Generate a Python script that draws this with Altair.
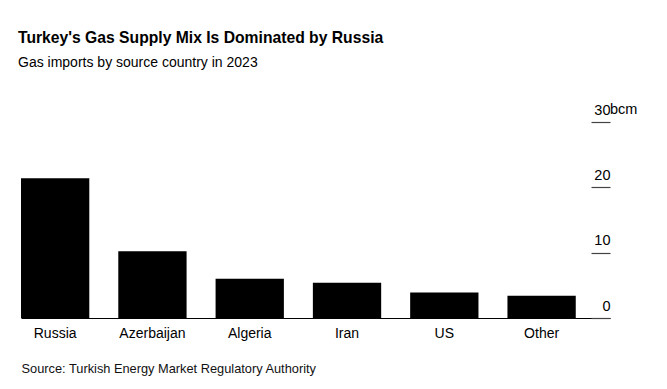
import altair as alt
import pandas as pd

countries = ["Russia", "Azerbaijan", "Algeria", "Iran", "US", "Other"]
imports_bcm = [21.4, 10.2, 6.0, 5.4, 3.9, 3.4]
y_ticks = [0, 10, 20, 30]
unit_label = ["bcm"]

df = pd.DataFrame({"country": countries, "value": imports_bcm})
unit_df = pd.DataFrame({"value": [y_ticks[-1]], "unit": unit_label})

FONT = "Liberation Sans"
W, H = 589, 196

x_enc = alt.X(
    "country:N",
    sort=countries,
    scale=alt.Scale(paddingInner=0.298, paddingOuter=0.176, align=0),
    axis=alt.Axis(
        title="Source: Turkish Energy Market Regulatory Authority",
        titleX=0, titleY=54, titleAnchor="start", titleAlign="left",
        titleBaseline="alphabetic", titleFont=FONT, titleFontSize=12.8,
        titleFontWeight="normal", titleColor="#111",
        labelAngle=0, labelFont=FONT, labelFontSize=14, labelColor="#000",
        labelPadding=8, ticks=False, domainColor="#000", domainWidth=1,
    ),
)

y_scale = alt.Scale(domain=[0, 30])

bars = alt.Chart(df).mark_bar(color="#000").encode(
    x=x_enc,
    y=alt.Y(
        "value:Q",
        scale=y_scale,
        axis=alt.Axis(
            orient="right", values=y_ticks, offset=-19, tickSize=19,
            tickColor="#444", tickWidth=1.2, domain=False, grid=False,
            labelAlign="right", labelPadding=0, labelBaseline="alphabetic",
            labelOffset=-8, labelFont=FONT, labelFontSize=14.5, labelColor="#000",
            title=None,
        ),
    ),
)

unit_text = alt.Chart(unit_df).mark_text(
    align="left", baseline="alphabetic", dy=-8, font=FONT, fontSize=14.5, color="#000"
).encode(
    x=alt.value(W),
    y=alt.Y("value:Q", scale=y_scale),
    text="unit:N",
)

chart = alt.layer(bars, unit_text).properties(
    width=W,
    height=H,
    background="#ffffff",
    title=alt.TitleParams(
        text="Turkey's Gas Supply Mix Is Dominated by Russia",
        subtitle="Gas imports by source country in 2023",
        anchor="start", frame="group", dx=-3,
        font=FONT, fontSize=15.7, fontWeight="bold", color="#000",
        subtitleFont=FONT, subtitleFontSize=14, subtitleColor="#000",
        subtitlePadding=9, offset=31,
    ),
    autosize=alt.AutoSizeParams(type="none"),
    padding={"left": 13, "top": 114, "right": 40, "bottom": 60},
).configure_view(strokeWidth=0, stroke=None)

chart.save("out.html", embed_options={"renderer": "svg", "actions": False})
